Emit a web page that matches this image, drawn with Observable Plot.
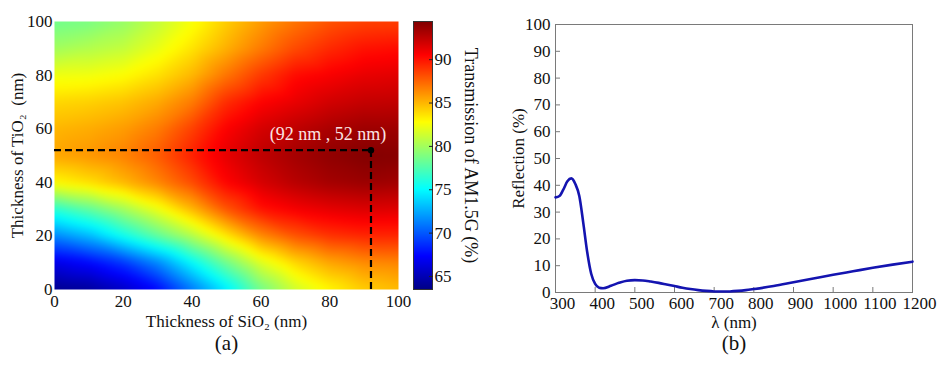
<!DOCTYPE html>
<html><head><meta charset="utf-8">
<script src="https://cdn.jsdelivr.net/npm/d3@7"></script>
<script src="https://cdn.jsdelivr.net/npm/@observablehq/plot@0.6"></script>
<style>
body{margin:0;background:#fff;}
#fig{position:relative;width:949px;height:372px;overflow:hidden;background:#fff;}
#fig svg{position:absolute;top:0;overflow:visible;}
</style></head><body><div id="fig"></div>
<script>
// ---- Panel (a): AM1.5G transmission map ----
const sio2 = [0, 10, 20, 30, 40, 50, 60, 70, 80, 90, 100];   // nm (x)
const tio2 = [0, 10, 20, 30, 40, 50, 60, 70, 80, 90, 100];   // nm (y)
// rows: TiO2 = 0 ... 100 ; columns: SiO2 = 0 ... 100
const t0   = [63.8, 64.2, 65.5, 67.5, 71.0, 74.5, 78.5, 81.3, 83.0, 84.3, 84.8];
const t10  = [66.6, 67.5, 69.0, 71.5, 75.0, 78.5, 81.8, 84.0, 85.5, 86.3, 86.5];
const t20  = [71.5, 73.0, 75.5, 78.0, 80.5, 83.5, 86.3, 88.0, 89.0, 89.4, 89.4];
const t30  = [76.4, 78.0, 80.0, 82.3, 85.0, 88.0, 90.0, 90.8, 91.3, 91.6, 91.5];
const t40  = [83.0, 83.8, 85.0, 86.5, 88.3, 90.5, 91.8, 92.7, 93.3, 93.6, 93.4];
const t50  = [85.5, 86.0, 86.6, 87.8, 89.6, 91.3, 92.5, 93.3, 93.9, 94.3, 94.2];
const t60  = [85.0, 85.3, 85.8, 86.8, 88.6, 90.6, 91.8, 92.5, 93.1, 93.5, 93.5];
const t70  = [84.0, 84.2, 84.6, 85.4, 86.8, 89.2, 90.5, 91.2, 91.9, 92.3, 92.4];
const t80  = [82.3, 82.4, 82.8, 83.7, 85.0, 87.0, 88.8, 90.2, 90.7, 91.2, 91.4];
const t90  = [80.0, 80.5, 81.0, 82.2, 83.6, 85.2, 86.8, 88.3, 89.3, 90.0, 90.2];
const t100 = [78.5, 78.8, 79.6, 81.0, 82.6, 84.3, 85.8, 87.0, 88.0, 88.5, 88.6];
const transmissionRows = [t0, t10, t20, t30, t40, t50, t60, t70, t80, t90, t100];
const optSiO2 = [92];
const optTiO2 = [52];
const optLabel = ["(92 nm , 52 nm)"];
const axisTicksA = [0, 20, 40, 60, 80, 100];
const colorTicks = [65, 70, 75, 80, 85, 90];
const colorDomain = [63.5, 94.4];

// ---- Panel (b): reflection spectrum ----
const wavelength = [300,310,320,330,340,350,360,370,380,390,400,410,420,440,460,480,500,520,540,560,580,600,620,640,660,680,700,720,740,760,780,800,850,900,950,1000,1050,1100,1150,1200];
const reflection = [35.5,36.0,38.5,41.5,42.6,40.5,36.0,26.0,15.0,7.0,3.2,1.8,1.6,2.5,3.6,4.4,4.6,4.5,4.1,3.6,3.0,2.4,1.8,1.3,0.9,0.6,0.4,0.35,0.4,0.6,0.9,1.3,2.4,3.8,5.2,6.6,7.9,9.2,10.4,11.5];
const xTicksB = [300,400,500,600,700,800,900,1000,1100,1200];
const yTicksB = [0,10,20,30,40,50,60,70,80,90,100];

// jet colormap
const jet = d3.scaleLinear()
  .domain([0, 0.125, 0.375, 0.625, 0.875, 1])
  .range(["#000085", "#0000ff", "#00ffff", "#ffff00", "#ff0000", "#800000"])
  .clamp(true);
const colorScale = {type: "linear", domain: colorDomain, interpolate: (t) => jet(t)};

const grid = [];
tio2.forEach((t, i) => sio2.forEach((s, j) => grid.push({s, t, v: transmissionRows[i][j]})));

const font = "'Liberation Serif', 'Times New Roman', serif";
const txt = "#111";
const svgStyle = `font-family: ${font}; font-size: 17px; color: ${txt}; background: transparent; overflow: visible;`;
const fig = document.getElementById("fig");
const tf = (d) => String(d);

// Heatmap
const plotA = Plot.plot({
  width: 412, height: 372,
  marginLeft: 54, marginRight: 14, marginTop: 21, marginBottom: 83,
  style: svgStyle,
  x: {domain: [0, 100], label: null},
  y: {domain: [0, 100], label: null},
  color: colorScale,
  marks: [
    Plot.raster(grid, {x: "s", y: "t", fill: "v", interpolate: "barycentric", pixelSize: 1, blur: 3}),
    Plot.axisX({ticks: axisTicksA, tickFormat: tf, tickSize: 0, tickPadding: 5, fill: txt, label: null}),
    Plot.axisY({ticks: axisTicksA, tickFormat: tf, tickSize: 0, tickPadding: 2, fill: txt, label: null}),
    Plot.ruleY(optTiO2, {y: (d) => d, x1: 0, x2: optSiO2[0], stroke: "#000", strokeWidth: 2.2, strokeDasharray: "7,4"}),
    Plot.ruleX(optSiO2, {x: (d) => d, y1: 0, y2: optTiO2[0], stroke: "#000", strokeWidth: 2.2, strokeDasharray: "7,4"}),
    Plot.dot(optSiO2, {x: (d) => d, y: (d, i) => optTiO2[i], r: 3.2, fill: "#000"}),
    Plot.text(optLabel, {x: () => optSiO2[0], y: () => optTiO2[0], text: (d) => d, dx: -43, dy: -16, fill: "#fbe4e4", fontSize: 18}),
    Plot.text(["Thickness of SiO\u2082 (nm)"], {frameAnchor: "bottom", textAnchor: "middle", text: (d) => d, dy: 37, fontSize: 17, fill: txt}),
    Plot.text(["(a)"], {frameAnchor: "bottom", textAnchor: "middle", text: (d) => d, dy: 60, fontSize: 21, fill: txt}),
    Plot.text(["Thickness of TiO\u2082  (nm)"], {frameAnchor: "left", textAnchor: "middle", text: (d) => d, dx: -37, rotate: -90, fontSize: 17, fill: txt})
  ]
});
plotA.style.left = "0px";
fig.appendChild(plotA);

// Colorbar
const plotC = Plot.plot({
  width: 80, height: 372,
  marginLeft: 0, marginRight: 61, marginTop: 21, marginBottom: 83,
  style: svgStyle,
  x: {domain: [0, 1], axis: null},
  y: {domain: colorDomain, axis: null},
  color: colorScale,
  marks: [
    Plot.raster({fill: (x, y) => y, x1: 0, x2: 1, y1: colorDomain[0], y2: colorDomain[1], pixelSize: 1}),
    Plot.frame({stroke: "#333", strokeWidth: 1}),
    Plot.axisY({anchor: "right", ticks: colorTicks, tickFormat: tf, tickSize: -4, tickPadding: 6, stroke: "#222", fill: txt, label: null}),
    Plot.text(["Transmission of AM1.5G (%)"], {frameAnchor: "right", textAnchor: "middle", text: (d) => d, dx: 38, rotate: 90, fontSize: 18, fill: txt})
  ]
});
plotC.style.left = "413px";
fig.appendChild(plotC);

// Reflection
const plotB = Plot.plot({
  width: 469, height: 372,
  marginLeft: 75, marginRight: 37, marginTop: 24, marginBottom: 80,
  style: svgStyle,
  x: {domain: [300, 1200], label: null},
  y: {domain: [0, 100], label: null},
  marks: [
    Plot.frame({stroke: "#7a7a7a", strokeWidth: 1}),
    Plot.axisX({ticks: xTicksB, tickFormat: () => "", tickSize: -5, stroke: "#7a7a7a", label: null}),
    Plot.axisX({ticks: xTicksB, tickFormat: tf, tickSize: 0, tickPadding: 4, dx: 7, fill: txt, label: null}),
    Plot.axisY({ticks: yTicksB, tickFormat: tf, tickSize: -5, tickPadding: 10, stroke: "#7a7a7a", fill: txt, label: null}),
    Plot.line(wavelength, {x: (d) => d, y: (d, i) => reflection[i], curve: "monotone-x", stroke: "#1414b0", strokeWidth: 2.6}),
    Plot.text(["\u03bb (nm)"], {frameAnchor: "bottom", textAnchor: "middle", text: (d) => d, dy: 35, fontSize: 17, fill: txt}),
    Plot.text(["(b)"], {frameAnchor: "bottom", textAnchor: "middle", text: (d) => d, dy: 57, fontSize: 21, fill: txt}),
    Plot.text(["Reflection (%)"], {frameAnchor: "left", textAnchor: "middle", text: (d) => d, dx: -37, rotate: -90, fontSize: 17, fill: txt})
  ]
});
plotB.style.left = "480px";
fig.appendChild(plotB);
</script></body></html>
